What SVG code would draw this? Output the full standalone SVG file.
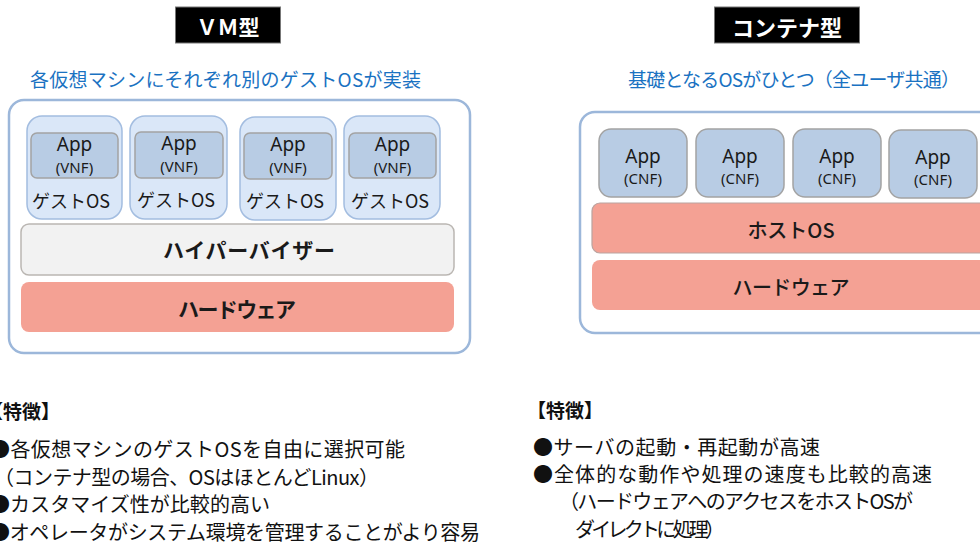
<svg xmlns="http://www.w3.org/2000/svg" width="980" height="544" viewBox="0 0 980 544">
<style>
.jp{font-family:"Noto Sans CJK JP","Noto Sans",sans-serif;}
.lat{font-family:"Noto Sans","Noto Sans CJK JP",sans-serif;}
.title{fill:#000;stroke:#777;stroke-width:1;}
.ttext{fill:#fff;font-weight:bold;font-size:21px;text-anchor:middle;dominant-baseline:central;}
.sub{fill:#1a72c2;font-size:19px;dominant-baseline:central;}
.outer{fill:#fff;stroke:#9cb7da;stroke-width:2.5;}
.guest{fill:#dae7f8;stroke:#a3bde0;stroke-width:1.5;}
.app{fill:#b8cce4;stroke:#a3a3a3;stroke-width:1.5;}
.hyp{fill:#f2f2f2;stroke:#bab6b2;stroke-width:1.5;}
.hw{fill:#f4a194;}
.host{fill:#f4a194;stroke:#b9a39f;stroke-width:1.2;}
.c{text-anchor:middle;dominant-baseline:central;fill:#1a1a1a;}
.appt{font-size:19px;}
.tag{font-size:15px;}
.gos{font-size:18px;}
.layer{font-size:21px;font-weight:bold;}
.layer2{font-size:20px;font-weight:500;}
.body{font-size:20px;fill:#111;dominant-baseline:central;}
.head{font-size:19px;font-weight:bold;fill:#111;dominant-baseline:central;}
</style>

<g id="vm-title">
<rect class="title" x="175.5" y="7" width="105" height="36"/>
<text class="jp ttext" x="228" y="26">ＶＭ型</text>
</g>
<text class="jp sub" x="30" y="78" textLength="391" lengthAdjust="spacing">各仮想マシンにそれぞれ別のゲストOSが実装</text>

<g id="vm-host">
<rect class="outer" x="9" y="100" width="461" height="253" rx="15"/>
</g>

<g id="vm-guest1">
<rect class="guest" x="27" y="116" width="95" height="103" rx="15"/>
<rect class="app" x="31" y="133" width="87" height="45" rx="6"/>
<text class="lat c appt" x="74.5" y="144">App</text>
<text class="lat c tag" x="74.5" y="167">(VNF)</text>
<text class="jp c gos" x="71" y="200">ゲストOS</text>
</g>
<g id="vm-guest2">
<rect class="guest" x="130" y="116" width="97" height="103" rx="15"/>
<rect class="app" x="135" y="132" width="88" height="46" rx="6"/>
<text class="lat c appt" x="179" y="143">App</text>
<text class="lat c tag" x="179" y="166">(VNF)</text>
<text class="jp c gos" x="176" y="199">ゲストOS</text>
</g>
<g id="vm-guest3">
<rect class="guest" x="240" y="117" width="96" height="103" rx="15"/>
<rect class="app" x="244" y="133" width="88" height="46" rx="6"/>
<text class="lat c appt" x="288" y="144">App</text>
<text class="lat c tag" x="288" y="167">(VNF)</text>
<text class="jp c gos" x="285" y="200">ゲストOS</text>
</g>
<g id="vm-guest4">
<rect class="guest" x="344" y="116" width="96" height="103" rx="15"/>
<rect class="app" x="349" y="133" width="87" height="45" rx="6"/>
<text class="lat c appt" x="392.5" y="144">App</text>
<text class="lat c tag" x="392.5" y="167">(VNF)</text>
<text class="jp c gos" x="390" y="200">ゲストOS</text>
</g>

<g id="vm-hypervisor">
<rect class="hyp" x="21" y="224" width="433" height="51" rx="8"/>
<text class="jp c layer" x="249" y="249" textLength="172" lengthAdjust="spacing">ハイパーバイザー</text>
</g>
<g id="vm-hardware">
<rect class="hw" x="21" y="282" width="433" height="50" rx="8"/>
<text class="jp c layer" x="237" y="308" textLength="118" lengthAdjust="spacing">ハードウェア</text>
</g>

<g id="ct-title">
<rect class="title" x="714.5" y="7" width="145" height="36"/>
<text class="jp ttext" x="787" y="26" style="font-size:22px">コンテナ型</text>
</g>
<text class="jp sub" x="628" y="78" textLength="332" lengthAdjust="spacing">基礎となるOSがひとつ（全ユーザ共通）</text>

<g id="ct-host">
<rect class="outer" x="580" y="112" width="428" height="221" rx="15"/>
</g>
<g id="ct-app1">
<rect class="app" x="599" y="129" width="88" height="68" rx="12"/>
<text class="lat c appt" x="643" y="156">App</text>
<text class="lat c tag" x="643" y="178">(CNF)</text>
</g>
<g id="ct-app2">
<rect class="app" x="696" y="129" width="88" height="68" rx="12"/>
<text class="lat c appt" x="740" y="156">App</text>
<text class="lat c tag" x="740" y="178">(CNF)</text>
</g>
<g id="ct-app3">
<rect class="app" x="793" y="129" width="88" height="68" rx="12"/>
<text class="lat c appt" x="837" y="156">App</text>
<text class="lat c tag" x="837" y="178">(CNF)</text>
</g>
<g id="ct-app4">
<rect class="app" x="889" y="130" width="88" height="68" rx="12"/>
<text class="lat c appt" x="933" y="157">App</text>
<text class="lat c tag" x="933" y="179">(CNF)</text>
</g>
<g id="ct-hostos">
<rect class="host" x="592" y="203" width="400" height="50" rx="8"/>
<text class="jp c layer2" x="791" y="229">ホストOS</text>
</g>
<g id="ct-hardware">
<rect class="hw" x="592" y="260" width="400" height="50" rx="8"/>
<text class="jp c layer2" x="791" y="286" textLength="117" lengthAdjust="spacing">ハードウェア</text>
</g>

<g id="connectors"/>

<g id="vm-features">
<text class="jp head" x="-16" y="410">【特徴】</text>
<text class="jp body" x="-10" y="448" textLength="415" lengthAdjust="spacing">●各仮想マシンのゲストOSを自由に選択可能</text>
<text class="jp body" x="-6" y="476" textLength="385" lengthAdjust="spacing">（コンテナ型の場合、OSはほとんどLinux）</text>
<text class="jp body" x="-10" y="503" textLength="280" lengthAdjust="spacing">●カスタマイズ性が比較的高い</text>
<text class="jp body" x="-10" y="531" textLength="490" lengthAdjust="spacing">●オペレータがシステム環境を管理することがより容易</text>
</g>
<g id="ct-features">
<text class="jp head" x="527" y="409">【特徴】</text>
<text class="jp body" x="533" y="446" textLength="287" lengthAdjust="spacing">●サーバの起動・再起動が高速</text>
<text class="jp body" x="533" y="473" textLength="399" lengthAdjust="spacing">●全体的な動作や処理の速度も比較的高速</text>
<text class="jp body" x="559" y="500" textLength="354" lengthAdjust="spacing">（ハードウェアへのアクセスをホストOSが</text>
<text class="jp body" x="575" y="528" textLength="150" lengthAdjust="spacing">ダイレクトに処理）</text>
</g>
</svg>
